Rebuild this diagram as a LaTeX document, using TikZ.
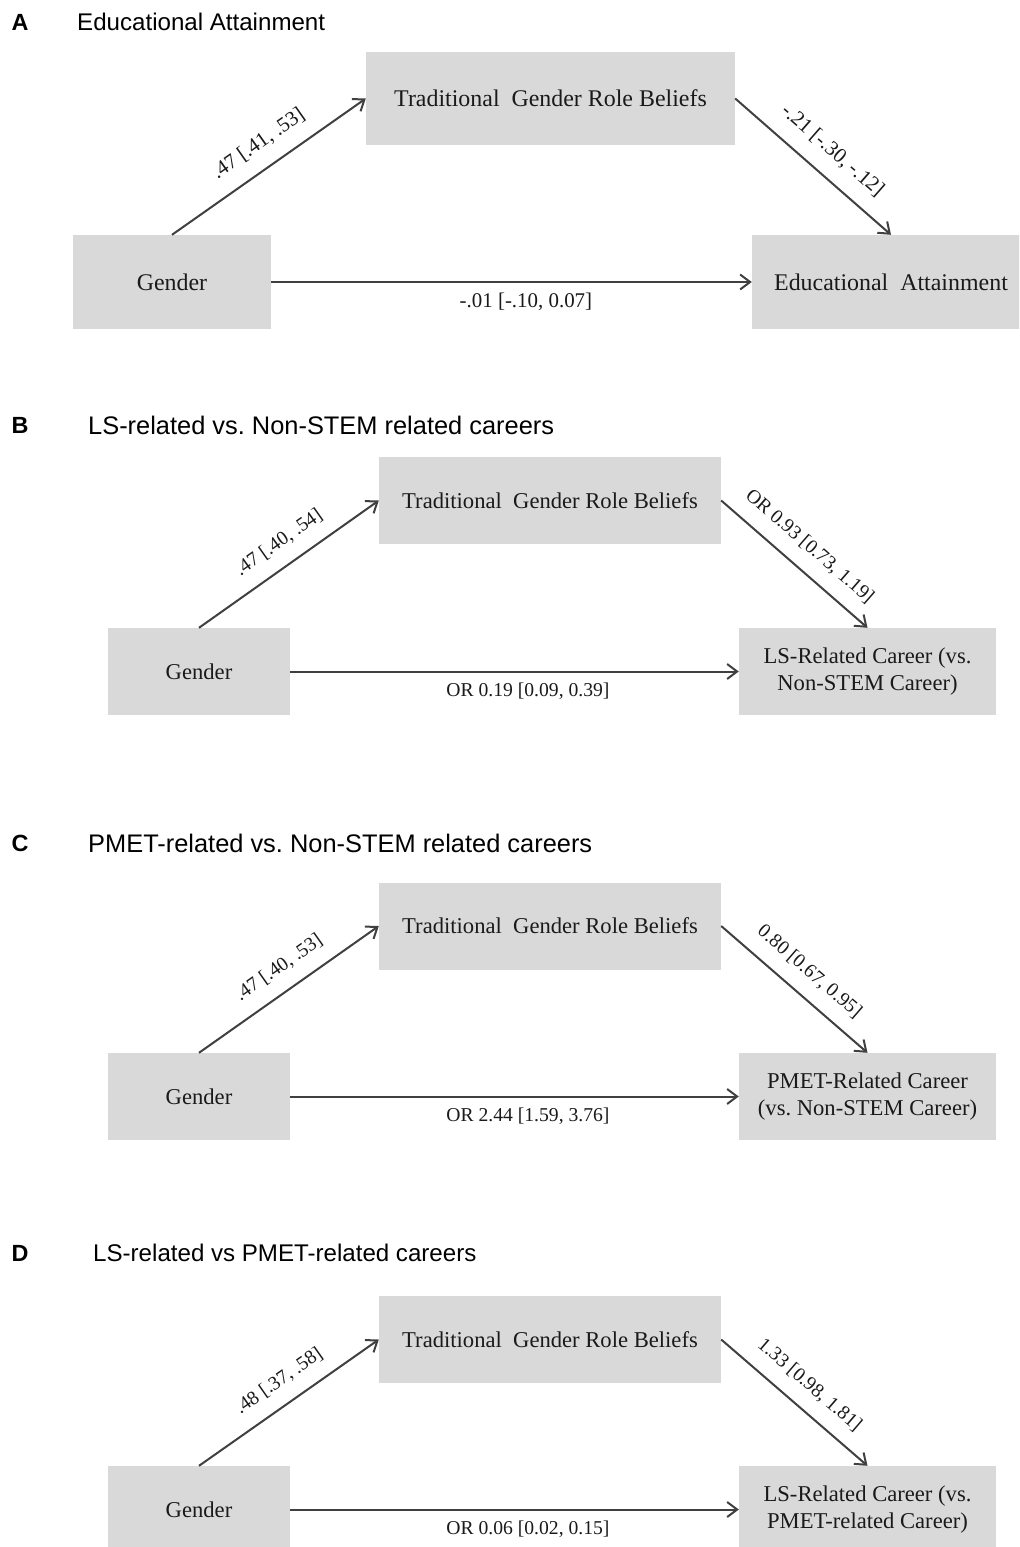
\documentclass[tikz,border=0pt]{standalone}
\usepackage{fontspec}
\setmainfont{Liberation Serif}
\newfontfamily\arialf{Liberation Sans}
\usetikzlibrary{arrows.meta}
\definecolor{boxgray}{HTML}{D9D9D9}
\definecolor{arrgray}{HTML}{404040}
\definecolor{txtc}{HTML}{1A1A1A}
\frenchspacing
\begin{document}
\frenchspacing
\begin{tikzpicture}[x=1bp,y=-1bp,
  box/.style={fill=boxgray, draw=none, inner sep=0pt, align=center, text=txtc},
  boxA/.style={box, font=\frenchspacing\fontsize{24}{28}\selectfont},
  boxB/.style={box, font=\frenchspacing\fontsize{22.7}{27}\selectfont},
  conn/.style={draw=arrgray, line width=2bp, -{Straight Barb[length=10bp,width=15bp,line width=2bp]}},
  lblA/.style={font=\fontsize{21}{24}\selectfont, text=txtc, inner sep=2bp},
  lblB/.style={font=\fontsize{19.7}{23}\selectfont, text=txtc, inner sep=2bp},
  ttl/.style={anchor=west, inner sep=0pt, text=black},
  ttlletter/.style={font=\arialf\bfseries\fontsize{23.5}{26}\selectfont, inner sep=0pt, text=black}
]
\clip (0,0) rectangle (1019,1547);
\fill[white] (0,0) rectangle (1019,1547);

% ---------- Panel A ----------
\node[ttlletter] (lA) at (20,22) {A};
\node[ttl, font=\frenchspacing\arialf\fontsize{24.2}{27}\selectfont] (tiA) at (77,22) {Educational Attainment};
\node[boxA, minimum width=369bp, minimum height=93bp] (tA) at (550.5,98.5) {Traditional~~Gender Role Beliefs};
\node[boxA, minimum width=198bp, minimum height=94bp] (gA) at (172,282) {Gender};
\node[boxA, minimum width=278bp, minimum height=94bp] (oA) at (891,282) {Educational~~Attainment};
\draw[conn] (gA.north) -- (tA.west) node[lblA, sloped, pos=0.52, above=13bp] {.47 [.41, .53]};
\draw[conn] (tA.east) -- (oA.north) node[lblA, sloped, pos=0.52, above=13bp] {-.21 [-.30, -.12]};
\draw[conn] (gA.east) -- (oA.west) node[lblA, pos=0.53, below=7.6bp] {-.01 [-.10, 0.07]};

% ---------- Panel B ----------
\node[ttlletter] (lB) at (20,425) {B};
\node[ttl, font=\frenchspacing\arialf\fontsize{25.5}{28}\selectfont] (tiB) at (88,425) {LS-related vs. Non-STEM related careers};
\node[boxB, minimum width=342bp, minimum height=87bp] (tB) at (550,500.5) {Traditional~~Gender Role Beliefs};
\node[boxB, minimum width=182bp, minimum height=87bp] (gB) at (199,671.5) {Gender};
\node[boxB, minimum width=257bp, minimum height=87bp] (oB) at (867.5,671.5) {LS-Related Career (vs.\\Non-STEM Career)};
\draw[conn] (gB.north) -- (tB.west) node[lblB, sloped, pos=0.52, above=12bp] {.47 [.40, .54]};
\draw[conn] (tB.east) -- (oB.north) node[lblB, sloped, pos=0.5, above=12bp] {OR 0.93 [0.73, 1.19]};
\draw[conn] (gB.east) -- (oB.west) node[lblB, pos=0.53, below=8.2bp] {OR 0.19 [0.09, 0.39]};

% ---------- Panel C ----------
\node[ttlletter] (lC) at (20,843) {C};
\node[ttl, font=\frenchspacing\arialf\fontsize{25.5}{28}\selectfont] (tiC) at (88,843) {PMET-related vs. Non-STEM related careers};
\node[boxB, minimum width=342bp, minimum height=87bp] (tC) at (550,926) {Traditional~~Gender Role Beliefs};
\node[boxB, minimum width=182bp, minimum height=87bp] (gC) at (199,1096.5) {Gender};
\node[boxB, minimum width=257bp, minimum height=87bp] (oC) at (867.5,1096.5) {PMET-Related Career\\(vs. Non-STEM Career)};
\draw[conn] (gC.north) -- (tC.west) node[lblB, sloped, pos=0.52, above=12bp] {.47 [.40, .53]};
\draw[conn] (tC.east) -- (oC.north) node[lblB, sloped, pos=0.5, above=12bp] {0.80 [0.67, 0.95]};
\draw[conn] (gC.east) -- (oC.west) node[lblB, pos=0.53, below=8.2bp] {OR 2.44 [1.59, 3.76]};

% ---------- Panel D ----------
\node[ttlletter] (lD) at (20,1253) {D};
\node[ttl, font=\frenchspacing\arialf\fontsize{24.2}{27}\selectfont] (tiD) at (93,1253) {LS-related vs PMET-related careers};
\node[boxB, minimum width=342bp, minimum height=87bp] (tD) at (550,1339.5) {Traditional~~Gender Role Beliefs};
\node[boxB, minimum width=182bp, minimum height=87bp] (gD) at (199,1509.5) {Gender};
\node[boxB, minimum width=257bp, minimum height=87bp] (oD) at (867.5,1509.5) {LS-Related Career (vs.\\PMET-related Career)};
\draw[conn] (gD.north) -- (tD.west) node[lblB, sloped, pos=0.52, above=12bp] {.48 [.37, .58]};
\draw[conn] (tD.east) -- (oD.north) node[lblB, sloped, pos=0.5, above=12bp] {1.33 [0.98, 1.81]};
\draw[conn] (gD.east) -- (oD.west) node[lblB, pos=0.53, below=8.2bp] {OR 0.06 [0.02, 0.15]};
\end{tikzpicture}
\end{document}
